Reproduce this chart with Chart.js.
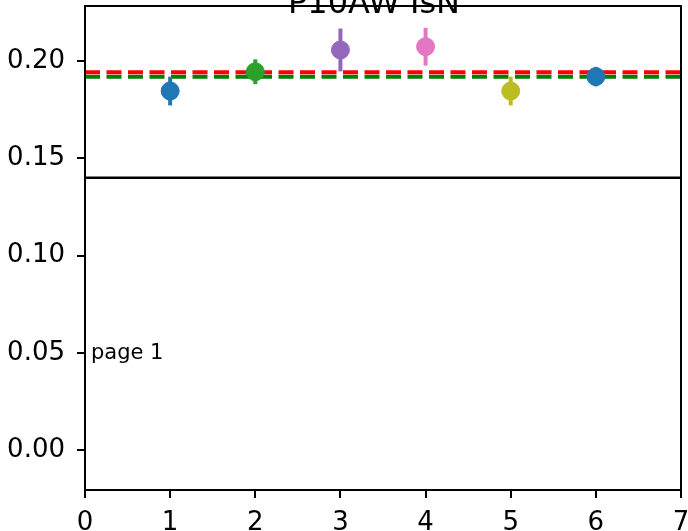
<!DOCTYPE html>
<html>
<head>
<meta charset="utf-8">
<script src="https://cdn.jsdelivr.net/npm/chart.js@4/dist/chart.umd.min.js"></script>
<style>
  html, body { margin: 0; padding: 0; background: #fff; }
  #wrap { width: 688px; height: 531px; }
</style>
</head>
<body>
<div id="wrap"><canvas id="chart" width="688" height="531"></canvas></div>
<script>
// Data
const runs = [1, 2, 3, 4, 5, 6];
const means = [0.1846, 0.1945, 0.2057, 0.2074, 0.1846, 0.1920];
const errors = [0.0074, 0.0064, 0.0110, 0.0097, 0.0074, 0.0050];
const pointColors = ['#1f77b4', '#2ca02c', '#9467bd', '#e377c2', '#bcbd22', '#1f77b4'];
const redLevel = 0.1943;
const greenLevel = 0.1919;
const baseLevel = 0.14;
const xTicks = [0, 1, 2, 3, 4, 5, 6, 7];
const yTicks = [0.00, 0.05, 0.10, 0.15, 0.20];
const titleText = 'P10AW IsN';
const noteText = 'page 1';

const FONT = "'DejaVu Sans', sans-serif";

// Error bars as two-point vertical lines
const errorBarSets = runs.map((x, i) => ({
    type: 'line',
    data: [{ x: x, y: means[i] - errors[i] }, { x: x, y: means[i] + errors[i] }],
    borderColor: pointColors[i],
    borderWidth: 4,
    pointRadius: 0,
    fill: false,
    order: 1
}));

function hline(y, color, width, dash, order) {
    return {
        type: 'line',
        data: [{ x: 0, y: y }, { x: 7, y: y }],
        borderColor: color,
        borderWidth: width,
        borderDash: dash,
        pointRadius: 0,
        fill: false,
        order: order
    };
}

// Axes box, title and note text
const framePlugin = {
    id: 'frame',
    afterDraw(chart) {
        const { ctx, chartArea } = chart;
        const xs = chart.scales.x, ys = chart.scales.y;
        ctx.save();
        ctx.strokeStyle = '#000';
        ctx.lineWidth = 2;
        ctx.strokeRect(chartArea.left, chartArea.top, chartArea.right - chartArea.left, chartArea.bottom - chartArea.top);

        ctx.fillStyle = '#000';
        ctx.font = '32px ' + FONT;
        ctx.textAlign = 'center';
        ctx.textBaseline = 'alphabetic';
        ctx.fillText(titleText, (chartArea.left + chartArea.right) / 2 - 9, 13);

        ctx.font = '21px ' + FONT;
        ctx.textAlign = 'left';
        ctx.textBaseline = 'middle';
        ctx.fillText(noteText, xs.getPixelForValue(0.07), ys.getPixelForValue(0.0495));
        ctx.restore();
    }
};

new Chart(document.getElementById('chart'), {
    type: 'scatter',
    data: {
        datasets: [
            {
                type: 'scatter',
                data: runs.map((x, i) => ({ x: x, y: means[i] })),
                pointBackgroundColor: pointColors,
                pointBorderColor: pointColors,
                pointRadius: 9,
                pointBorderWidth: 1,
                order: 0
            },
            ...errorBarSets,
            hline(redLevel, '#ff0000', 4, [15, 6.5], 2),
            hline(greenLevel, '#008000', 4, [15, 6.5], 3),
            hline(baseLevel, '#000000', 2.3, [], 4)
        ]
    },
    options: {
        responsive: false,
        animation: false,
        layout: { autoPadding: false, padding: { top: 6, right: 7, left: 0, bottom: 0 } },
        plugins: {
            legend: { display: false },
            tooltip: { enabled: false }
        },
        scales: {
            x: {
                type: 'linear',
                min: 0,
                max: 7,
                afterBuildTicks: s => { s.ticks = xTicks.map(v => ({ value: v })); },
                afterFit: s => { s.height = 41; s.paddingLeft = 0; s.paddingRight = 0; },
                grid: { drawOnChartArea: false, color: '#000', lineWidth: 2, tickLength: 8 },
                border: { display: false },
                ticks: {
                    color: '#000',
                    font: { family: FONT, size: 26 },
                    padding: 10,
                    maxRotation: 0,
                    autoSkip: false,
                    callback: v => String(v)
                }
            },
            y: {
                type: 'linear',
                min: -0.0205,
                max: 0.2283,
                afterBuildTicks: s => { s.ticks = yTicks.map(v => ({ value: v })); },
                afterFit: s => { s.width = 85; s.paddingTop = 0; s.paddingBottom = 0; },
                grid: { drawOnChartArea: false, color: '#000', lineWidth: 2, tickLength: 8 },
                border: { display: false },
                ticks: {
                    color: '#000',
                    font: { family: FONT, size: 26 },
                    padding: 12,
                    autoSkip: false,
                    callback: v => v.toFixed(2)
                }
            }
        }
    },
    plugins: [framePlugin]
});
</script>
</body>
</html>
